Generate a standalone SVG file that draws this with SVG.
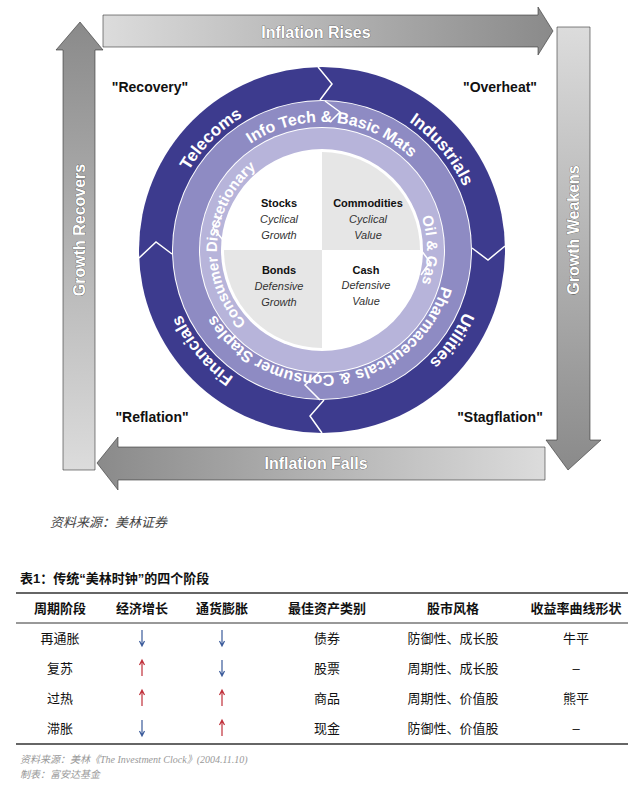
<svg xmlns="http://www.w3.org/2000/svg" width="640" height="793" viewBox="0 0 640 793">
<style>
.al{font-family:"Liberation Sans",Arial,sans-serif;font-weight:bold;font-size:16px;fill:#fff;stroke:#444;stroke-width:0.6px;paint-order:stroke;text-anchor:middle}
.cl{font-family:"Liberation Sans",Arial,sans-serif;font-weight:bold;font-size:14px;fill:#111;text-anchor:middle}
.rt{font-family:"Liberation Sans",Arial,sans-serif;font-weight:bold;fill:#fff;text-anchor:middle}
.qh{font-family:"Liberation Sans",Arial,sans-serif;font-weight:bold;font-size:11px;fill:#111;text-anchor:middle}
.qi{font-family:"Liberation Sans",Arial,sans-serif;font-style:italic;font-size:11px;fill:#333;text-anchor:middle}
.th{font-family:"Liberation Sans","Noto Sans CJK SC",sans-serif;font-weight:bold;font-size:13px;fill:#111;text-anchor:middle}
.td{font-family:"Liberation Sans","Noto Sans CJK SC",sans-serif;font-size:13px;fill:#111;text-anchor:middle}
.ft{font-family:"Liberation Serif","Noto Sans CJK SC",serif;font-style:italic;font-size:10px;fill:#999}
.zz{fill:none;stroke:#fff;stroke-width:1.5}
</style>
<defs>
<linearGradient id="gT" x1="0" x2="1" y1="0" y2="0"><stop offset="0" stop-color="#dcdcdc"/><stop offset="1" stop-color="#8a8a8a"/></linearGradient>
<linearGradient id="gB" x1="0" x2="1" y1="0" y2="0"><stop offset="0" stop-color="#8a8a8a"/><stop offset="1" stop-color="#dcdcdc"/></linearGradient>
<linearGradient id="gL" x1="0" x2="0" y1="0" y2="1"><stop offset="0" stop-color="#8a8a8a"/><stop offset="1" stop-color="#dcdcdc"/></linearGradient>
<linearGradient id="gR" x1="0" x2="0" y1="0" y2="1"><stop offset="0" stop-color="#dcdcdc"/><stop offset="1" stop-color="#8a8a8a"/></linearGradient>
<path id="o1" d="M 167,250 A 155,155 0 1 1 477,250 A 155,155 0 1 1 167,250"/>
<path id="m1" d="M 194,250 A 128,128 0 1 1 450,250 A 128,128 0 1 1 194,250"/>
<path id="p1" d="M 197,250 A 125,125 0 1 1 447,250 A 125,125 0 1 1 197,250"/>
<path id="i1" d="M 217,250 A 105,105 0 1 1 427,250 A 105,105 0 1 1 217,250"/>
<path id="c1" d="M 322,355 A 105,105 0 1 1 322,145 A 105,105 0 1 1 322,355"/>
</defs>

<g id="connectors">
<g id="arrow-top"><path d="M103,15 H538 V7 L553,31 L538,55 V47 H103 Z" fill="url(#gT)" stroke="#333" stroke-width="0.6"/><text class="al" x="316" y="38">Inflation Rises</text></g>
<g id="arrow-right"><path d="M557,27 H590 V440 H601 L568,470 L546,440 H557 Z" fill="url(#gR)" stroke="#333" stroke-width="0.6"/><text class="al" transform="translate(579,230) rotate(-90)">Growth Weakens</text></g>
<g id="arrow-bottom"><path d="M545,447 V480 H118 V490 L97,463 L118,437 V447 Z" fill="url(#gB)" stroke="#333" stroke-width="0.6"/><text class="al" x="316" y="469">Inflation Falls</text></g>
<g id="arrow-left"><path d="M63,470 V50 H56 L80,22 L103,50 H95 V470 Z" fill="url(#gL)" stroke="#333" stroke-width="0.6"/><text class="al" transform="translate(85,230) rotate(-90)">Growth Recovers</text></g>
</g>

<g id="clock">
<circle cx="322" cy="250" r="183" fill="#3d3b8e"/>
<circle cx="322" cy="250" r="150" fill="#fff"/>
<circle cx="322" cy="250" r="149" fill="#8e8bc3"/>
<circle cx="322" cy="250" r="123" fill="#fff"/>
<circle cx="322" cy="250" r="122" fill="#b7b4da"/>
<circle cx="322" cy="250" r="101" fill="#fff"/>
<path d="M322,152 A98,98 0 0 1 420,250 H322 Z" fill="#e6e6e6"/>
<path d="M322,348 A98,98 0 0 1 224,250 H322 Z" fill="#e6e6e6"/>
<path class="zz" d="M318,67 L332,84 L320,100"/>
<path class="zz" d="M505,246 L488,260 L472,248"/>
<path class="zz" d="M322,433 L310,416 L324,400"/>
<path class="zz" d="M139,258 L156,242 L172,254"/>
<path class="zz" d="M325,101 L340,112 L330,122"/>
<path class="zz" d="M421,250 L430,262 L421,275" />
<path class="zz" d="M320,400 L305,385 L320,372"/>
<path class="zz" d="M223,240 L213,228 L222,215"/>
<g id="sectors">
<text class="rt" font-size="17"><textPath href="#o1" startOffset="12.5%">Telecoms</textPath></text>
<text class="rt" font-size="17"><textPath href="#o1" startOffset="38.9%">Industrials</textPath></text>
<text class="rt" font-size="17"><textPath href="#o1" startOffset="59.7%">Utilities</textPath></text>
<text class="rt" font-size="17"><textPath href="#o1" startOffset="88.9%">Financials</textPath></text>
<text class="rt" font-size="16"><textPath href="#m1" startOffset="26.4%">Info Tech &amp; Basic Mats</textPath></text>
<text class="rt" font-size="15"><textPath href="#i1" startOffset="50%">Oil &amp; Gas</textPath></text>
<text class="rt" font-size="16"><textPath href="#p1" startOffset="73%">Pharmaceuticals &amp; Consumer Staples</textPath></text>
<text class="rt" font-size="15"><textPath href="#c1" startOffset="26%">Consumer Discretionary</textPath></text>
</g>
<g id="q-stocks"><text class="qh" x="279" y="207">Stocks</text><text class="qi" x="279" y="223">Cyclical</text><text class="qi" x="279" y="239">Growth</text></g>
<g id="q-commodities"><text class="qh" x="368" y="207">Commodities</text><text class="qi" x="368" y="223">Cyclical</text><text class="qi" x="368" y="239">Value</text></g>
<g id="q-bonds"><text class="qh" x="279" y="274">Bonds</text><text class="qi" x="279" y="290">Defensive</text><text class="qi" x="279" y="306">Growth</text></g>
<g id="q-cash"><text class="qh" x="366" y="274">Cash</text><text class="qi" x="366" y="289">Defensive</text><text class="qi" x="366" y="305">Value</text></g>
</g>

<g id="phases">
<text class="cl" x="150" y="92">"Recovery"</text>
<text class="cl" x="500" y="92">"Overheat"</text>
<text class="cl" x="152" y="422">"Reflation"</text>
<text class="cl" x="500" y="422">"Stagflation"</text>
</g>

<text x="50" y="527" font-family="Liberation Serif,'Noto Sans CJK SC',serif" font-style="italic" font-size="13" fill="#444">资料来源：美林证券</text>

<g id="table">
<text x="20" y="583" font-family="Liberation Sans,'Noto Sans CJK SC',sans-serif" font-weight="bold" font-size="13" fill="#111">表1：传统“美林时钟”的四个阶段</text>
<line x1="16" y1="593" x2="628" y2="593" stroke="#333" stroke-width="1.5"/>
<line x1="16" y1="623" x2="628" y2="623" stroke="#333" stroke-width="1"/>
<line x1="16" y1="744" x2="628" y2="744" stroke="#333" stroke-width="1.5"/>
<text class="th" x="60" y="613">周期阶段</text><text class="th" x="142" y="613">经济增长</text><text class="th" x="222" y="613">通货膨胀</text><text class="th" x="327" y="613">最佳资产类别</text><text class="th" x="453" y="613">股市风格</text><text class="th" x="576" y="613">收益率曲线形状</text>
<text class="td" x="60" y="643">再通胀</text><text class="td" x="327" y="643">债券</text><text class="td" x="453" y="643">防御性、成长股</text><text class="td" x="576" y="643">牛平</text>
<text class="td" x="60" y="673">复苏</text><text class="td" x="327" y="673">股票</text><text class="td" x="453" y="673">周期性、成长股</text><text class="td" x="576" y="673">–</text>
<text class="td" x="60" y="703">过热</text><text class="td" x="327" y="703">商品</text><text class="td" x="453" y="703">周期性、价值股</text><text class="td" x="576" y="703">熊平</text>
<text class="td" x="60" y="733">滞胀</text><text class="td" x="327" y="733">现金</text><text class="td" x="453" y="733">防御性、价值股</text><text class="td" x="576" y="733">–</text>
<g stroke-width="1.2" fill="none">
<path d="M142,630 V645 M139.5,641 L142,646 L144.5,641" stroke="#3a5a9a"/>
<path d="M222,630 V645 M219.5,641 L222,646 L224.5,641" stroke="#3a5a9a"/>
<path d="M142,676 V661 M139.5,665 L142,660 L144.5,665" stroke="#c0303a"/>
<path d="M222,660 V675 M219.5,671 L222,676 L224.5,671" stroke="#3a5a9a"/>
<path d="M142,706 V691 M139.5,695 L142,690 L144.5,695" stroke="#c0303a"/>
<path d="M222,706 V691 M219.5,695 L222,690 L224.5,695" stroke="#c0303a"/>
<path d="M142,720 V735 M139.5,731 L142,736 L144.5,731" stroke="#3a5a9a"/>
<path d="M222,736 V721 M219.5,725 L222,720 L224.5,725" stroke="#c0303a"/>
</g>
<text class="ft" x="20" y="763">资料来源：美林《The Investment Clock》(2004.11.10)</text>
<text class="ft" x="20" y="778">制表：富安达基金</text>
</g>
</svg>
